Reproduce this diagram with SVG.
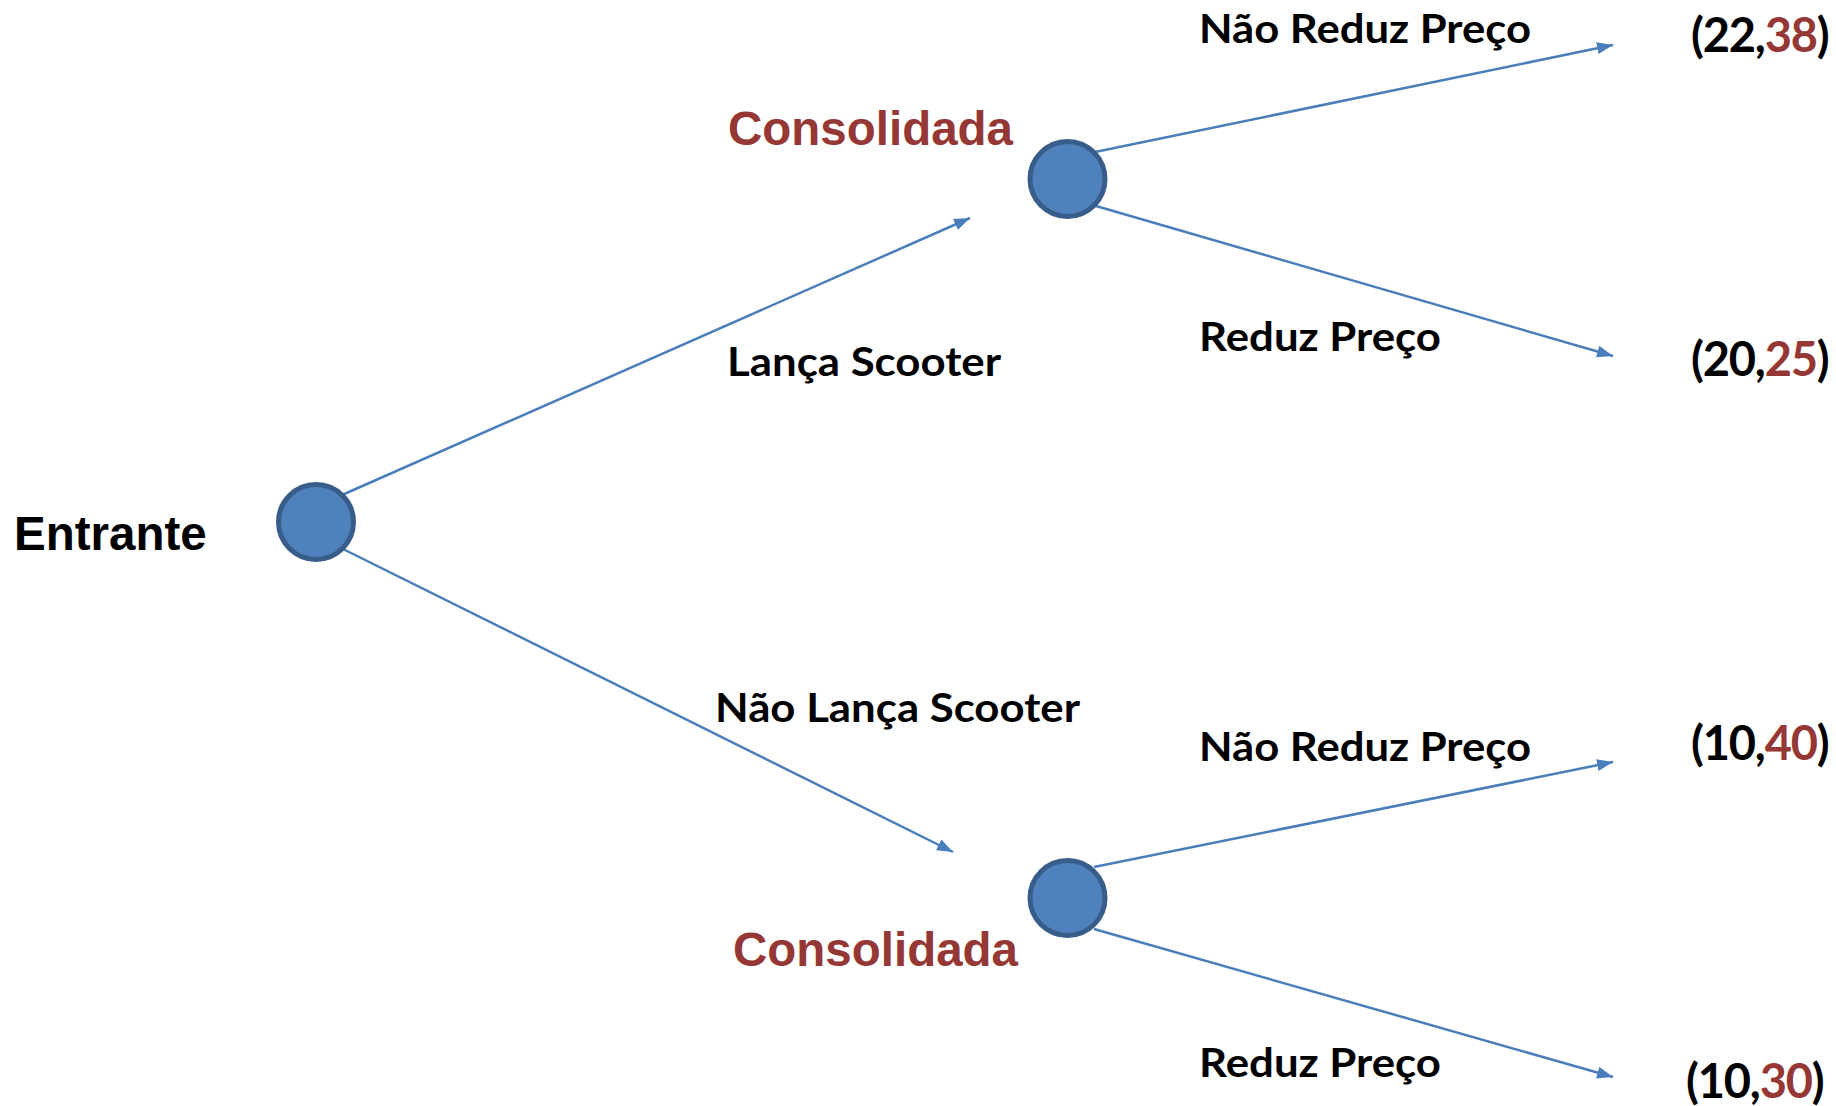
<svg xmlns="http://www.w3.org/2000/svg" width="1836" height="1106" viewBox="0 0 1836 1106">
<style>
.node{fill:#4f81bd;stroke:#385d8a;stroke-width:5}
.edge{stroke:#4a7ebb;stroke-width:2.5;fill:none;marker-end:url(#arr)}
.lbl{font-family:Lato,"Open Sans","Noto Sans",sans-serif;font-weight:bold;font-size:40px;fill:#000}
.pay{font-family:Lato,"Open Sans","Noto Sans",sans-serif;font-weight:bold;font-size:47px;letter-spacing:-1.2px;fill:#000}
.ar{font-family:"Liberation Sans",Arial,sans-serif;font-weight:bold}
.red{fill:#953735}
</style>
<defs>
<marker id="arr" markerUnits="userSpaceOnUse" markerWidth="20" markerHeight="16" refX="16" refY="6" orient="auto">
<path d="M0,0 L16,6 L0,12 Z" fill="#4a7ebb"/>
</marker>
</defs>
<g id="connectors">
<line class="edge" x1="342" y1="495" x2="970" y2="218"/>
<line class="edge" x1="343" y1="549" x2="953" y2="852"/>
<line class="edge" x1="1095" y1="152" x2="1613" y2="45"/>
<line class="edge" x1="1096" y1="206" x2="1613" y2="356"/>
<line class="edge" x1="1094" y1="867" x2="1613" y2="762"/>
<line class="edge" x1="1094" y1="929" x2="1613" y2="1077"/>
</g>
<g id="node-entrante">
<circle class="node" cx="316" cy="522" r="37.5"/>
<text class="ar" x="14" y="550" font-size="47.5">Entrante</text>
</g>
<g id="node-consolidada-top">
<circle class="node" cx="1067.5" cy="179" r="37.5"/>
<text class="ar red" x="728" y="145" font-size="47.5">Consolidada</text>
</g>
<g id="node-consolidada-bottom">
<circle class="node" cx="1067.5" cy="898" r="37.5"/>
<text class="ar red" x="733" y="966" font-size="47.5">Consolidada</text>
</g>
<g id="labels">
<text class="lbl" x="1199" y="43" textLength="332" lengthAdjust="spacingAndGlyphs">Não Reduz Preço</text>
<text class="lbl" x="1199" y="351" textLength="242" lengthAdjust="spacingAndGlyphs">Reduz Preço</text>
<text class="lbl" x="727" y="376" textLength="274" lengthAdjust="spacingAndGlyphs">Lança Scooter</text>
<text class="lbl" x="715" y="722" textLength="365" lengthAdjust="spacingAndGlyphs">Não Lança Scooter</text>
<text class="lbl" x="1199" y="761" textLength="332" lengthAdjust="spacingAndGlyphs">Não Reduz Preço</text>
<text class="lbl" x="1199" y="1077" textLength="242" lengthAdjust="spacingAndGlyphs">Reduz Preço</text>
</g>
<g id="payoffs">
<text class="pay" x="1691" y="52">(22,<tspan class="red">38</tspan>)</text>
<text class="pay" x="1691" y="376">(20,<tspan class="red">25</tspan>)</text>
<text class="pay" x="1691" y="760">(10,<tspan class="red">40</tspan>)</text>
<text class="pay" x="1686" y="1098">(10,<tspan class="red">30</tspan>)</text>
</g>
</svg>
